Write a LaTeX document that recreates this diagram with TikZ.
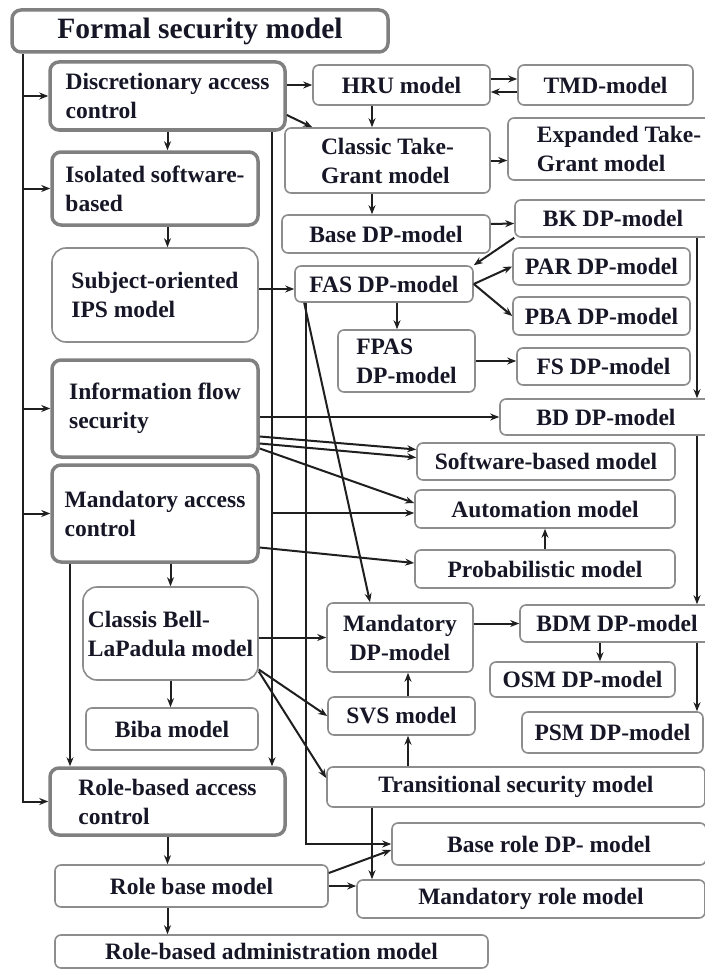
\documentclass[tikz,border=0pt]{standalone}
\usepackage{fontspec}
\setmainfont{Liberation Serif}
\usetikzlibrary{arrows.meta, calc}
\definecolor{ink}{RGB}{22,22,38}
\definecolor{frame}{RGB}{128,128,128}

\begin{document}
\begin{tikzpicture}[
      x = 1pt, y = -1pt,
      Line/.style = {draw = black!88, line width = 2pt, -{Stealth[length = 9pt, width = 7pt]}},
      Major/.style = {draw = frame, line width = 3.5pt, rectangle, rounded corners = 9pt, fill = white,
                      inner sep = 0pt, align = left, text = ink, font = \fontsize{23.5}{29}\selectfont\bfseries},
      Minor/.style = {draw = frame!90, line width = 1.6pt, rectangle, rounded corners = 6pt, fill = white,
                      inner sep = 0pt, align = left, text = ink, font = \fontsize{23.5}{29}\selectfont\bfseries},
      Box/.style 2 args = {minimum width = #1, minimum height = #2}
    ]
    \path [fill = white] (0,0) rectangle (704,971);
    \useasboundingbox (0,0) rectangle (704,971);

    % left column
    \node at (200,31) [Major, Box={376}{42}, align = center, font = \fontsize{29.5}{32}\selectfont\bfseries](fsm){Formal security model};
    \node at (167.5,96) [Major, Box={235}{68}](dac){Discretionary access\\control};
    \node at (155,188.5) [Major, Box={206}{73}](iso){Isolated software-\\based};
    \node at (155,295) [Minor, Box={206}{94}, rounded corners = 14pt](ips){Subject-oriented\\IPS model};
    \node at (155,408.5) [Major, Box={206}{97}](ifs){Information flow\\security};
    \node at (155,513.5) [Major, Box={206}{97}](mac){Mandatory access\\control};
    \node at (170.5,633.5) [Minor, Box={175}{93}, rounded corners = 14pt](blp){Classis Bell-\\LaPadula model};
    \node at (172,729) [Minor, Box={172}{42}](biba){Biba model};
    \node at (167.5,801.5) [Major, Box={235}{67}](rbac){Role-based access\\control};
    \node at (191.5,886) [Minor, Box={273}{42}](rbm){Role base model};
    \node at (271.5,951.5) [Minor, Box={433}{33}](rbam){Role-based administration model};

    % right part
    \node at (401.5,85) [Minor, Box={177}{40}](hru){HRU model};
    \node at (605.5,85) [Minor, Box={175}{40}](tmd){TMD-model};
    \node at (387.5,160.5) [Minor, Box={205}{65}](ctg){Classic Take-\\Grant model};
    \node at (619,149) [Minor, Box={222}{62}](etg){Expanded Take-\\Grant model};
    \node at (386,234) [Minor, Box={208}{38}](bdp){Base DP-model};
    \node at (613,218.5) [Minor, Box={196}{37}](bk){BK DP-model};
    \node at (384,284) [Minor, Box={178}{36}](fas){FAS DP-model};
    \node at (601.5,266.5) [Minor, Box={177}{37}](par){PAR DP-model};
    \node at (601.5,316) [Minor, Box={177}{38}](pba){PBA DP-model};
    \node at (406.5,361) [Minor, Box={137}{62}](fpas){FPAS\\DP-model};
    \node at (603.5,366.5) [Minor, Box={173}{37}](fs){FS DP-model};
    \node at (606,417) [Minor, Box={212}{36}](bd){BD DP-model};
    \node at (546,461.5) [Minor, Box={258}{37}](sbm){Software-based model};
    \node at (545,509) [Minor, Box={260}{38}](aut){Automation model};
    \node at (545,569) [Minor, Box={260}{38}](prob){Probabilistic model};
    \node at (400,637.5) [Minor, Box={146}{69}, align = center](mdp){Mandatory\\DP-model};
    \node at (617,623.5) [Minor, Box={194}{37}](bdm){BDM DP-model};
    \node at (582.5,679.5) [Minor, Box={185}{35}](osm){OSM DP-model};
    \node at (401.5,716) [Minor, Box={147}{38}](svs){SVS model};
    \node at (612.5,732.5) [Minor, Box={181}{41}](psm){PSM DP-model};
    \node at (516,787) [Minor, Box={378}{40}](tsm){Transitional security model};
    \node at (549,844) [Minor, Box={314}{42}](brdp){Base role DP- model};
    \node at (531,899) [Minor, Box={348}{38}](mrm){Mandatory role model};

    % vertical rails
    \coordinate (tx) at (23,0);
    \coordinate (lx) at (70,0);
    \coordinate (rx) at (272,0);
    \coordinate (mx) at (372,0);
    \coordinate (fx) at (397,0);
    \coordinate (sx) at (408,0);
    \coordinate (ox) at (600,0);
    \coordinate (ry) at (697,0);

    \path [Line] (fsm.south -| tx) |- (rbac.west);
    \foreach \n in {dac, iso, ifs, mac}
      \path [Line] (\n.west -| tx) -- (\n.west);

    \path [Line] (dac.south) -- (dac.south |- iso.north);
    \path [Line] (dac.south |- iso.south) -- (dac.south |- ips.north);
    \path [Line] (blp.north |- mac.south) -- (blp.north);
    \path [Line] (blp.south) -- (blp.south |- biba.north);
    \path [Line] (mac.south -| lx) -- (rbac.north -| lx);
    \path [Line] (dac.south -| rx) -- (rbac.north -| rx);
    \path [Line] (rbac.south) -- (rbac.south |- rbm.north);
    \path [Line] (rbac.south |- rbm.south) -- (rbac.south |- rbam.north);

    \path [Line] (dac.east |- hru.west) -- (hru.west);
    \path [Line] ($(dac.east)+(0,19)$) -- (hru.south west |- ctg.north);
    \path [Line] ([yshift=6pt]hru.east) -- ([yshift=6pt]tmd.west);
    \path [Line] ([yshift=-7pt]tmd.west) -- ([yshift=-7pt]hru.east);
    \path [Line] (hru.south -| mx) -- (ctg.north -| mx);
    \path [Line] (ctg.east) -- (ctg.east -| etg.west);
    \path [Line] (ctg.south -| mx) -- (bdp.north -| mx);
    \path [Line] ($(bdp.east)+(0,-10)$) -- ($(bk.west)+(0,5)$);
    \path [Line] (bk.south west) -- (fas.north east);
    \path [Line] (fas.east) -- (par.west);
    \path [Line] (fas.east) -- (pba.west);
    \path [Line] (fas.south -| fx) -- (fpas.north -| fx);
    \path [Line] (fpas.east) -- (fpas.east -| fs.west);
    \path [Line] ($(ips.east)+(0,-6)$) -- ($(fas.west)+(0,5)$);
    \path [Line] (bk.south -| ry) -- (bd.north -| ry);
    \path [Line] (bd.south -| ry) -- (bdm.north -| ry);
    \path [Line] (bdm.south -| ry) -- (psm.north -| ry);

    \path [Line] (ifs.east |- bd.west) -- (bd.west);
    \path [Line] ($(ifs.east)+(0,28)$) -- ($(sbm.west)+(0,-12)$);
    \path [Line] ($(ifs.east)+(0,35)$) -- ($(sbm.west)+(0,-4)$);
    \path [Line] ($(ifs.east)+(0,40)$) -- ($(aut.west)+(0,-6)$);
    \path [Line] ($(aut.west -| rx)+(0,4)$) -- ($(aut.west)+(0,4)$);
    \path [Line] ($(mac.east)+(0,34)$) -- ($(prob.west)+(0,-6)$);
    \path [Line] (prob.north) -- (aut.south);

    \path [Line] (blp.east |- mdp.west) -- (mdp.west);
    \path [Line] ($(blp.east)+(0,36)$) -- (svs.west);
    \path [Line] ($(blp.east)+(0,38)$) -- ($(tsm.west)+(0,-9)$);
    \path [Line] ($(fas.south west)+(10,0)$) -- ($(mdp.north)+(-30,0)$);
    \path [Line] ($(fas.south west)+(12,0)$) |- (brdp.west);
    \path [Line] (mdp.east |- bdm.west) -- (bdm.west);
    \path [Line] (bdm.south -| ox) -- (osm.north -| ox);
    \path [Line] (svs.north -| sx) -- (mdp.south -| sx);
    \path [Line] (tsm.north -| sx) -- (svs.south -| sx);
    \path [Line] (tsm.south -| mx) -- (mrm.north -| mx);

    \path [Line] ($(rbm.east)+(0,-13)$) -- ($(brdp.west)+(0,6)$);
    \path [Line] (rbm.east) -- (rbm.east -| mrm.west);
  \end{tikzpicture}
\end{document}
